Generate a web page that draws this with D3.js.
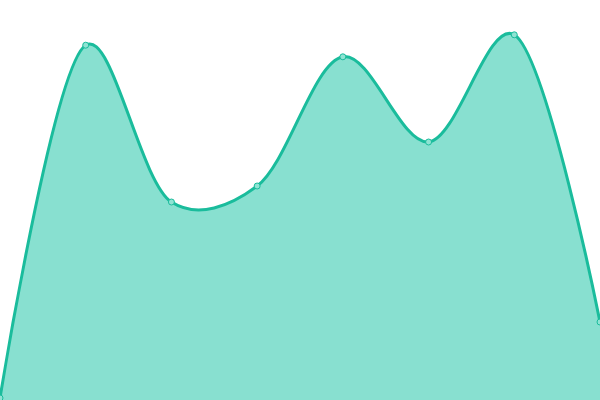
<!DOCTYPE html>
<html>
<head>
<meta charset="utf-8">
<script src="https://cdn.jsdelivr.net/npm/d3@7"></script>
<style>
  body { margin: 0; background: #fff; }
</style>
</head>
<body>
<div id="chart"></div>
<script>
var labels = ["A", "B", "C", "D", "E", "F", "G", "H"];
var values = [0.5, 88.7, 49.5, 53.5, 85.8, 64.5, 91.3, 19.5];

var width = 600, height = 400;
var lineColor = "#1abc9c";

var data = labels.map(function(d, i){
    return { label: d, value: values[i] };
});

var x = d3.scalePoint()
    .domain(labels)
    .range([0, width]);

var y = d3.scaleLinear()
    .domain([0, 100])
    .range([height, 0]);

var curve = d3.curveCatmullRom.alpha(0.25);

var svg = d3.select("#chart")
    .append("svg")
    .attr("width", width)
    .attr("height", height);

var area = d3.area()
    .x(function(d){ return x(d.label); })
    .y0(height)
    .y1(function(d){ return y(d.value); })
    .curve(curve);

var line = d3.line()
    .x(function(d){ return x(d.label); })
    .y(function(d){ return y(d.value); })
    .curve(curve);

svg.append("path")
    .datum(data)
    .attr("d", area)
    .style("fill", "#88e0d0");

svg.append("path")
    .datum(data)
    .attr("d", line)
    .style("fill", "none")
    .style("stroke", lineColor)
    .style("stroke-width", 3);

svg.selectAll("circle")
    .data(data)
    .enter()
    .append("circle")
    .attr("cx", function(d){ return x(d.label); })
    .attr("cy", function(d){ return y(d.value); })
    .attr("r", 3)
    .style("fill", "#8fe3d3")
    .style("stroke", lineColor)
    .style("stroke-width", 1);
</script>
</body>
</html>
